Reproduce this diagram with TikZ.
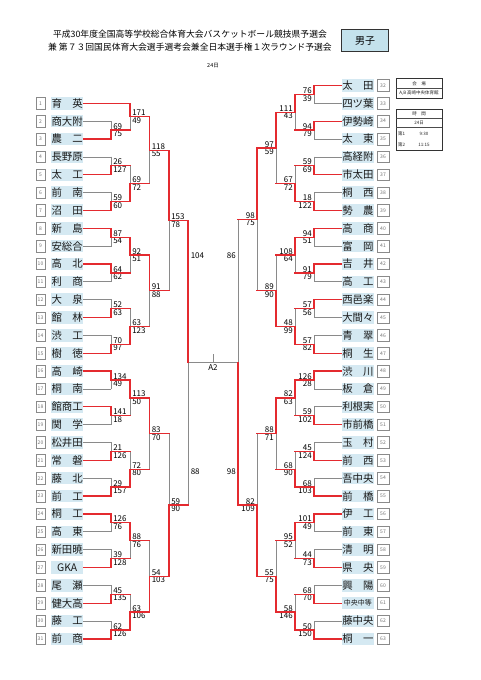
\documentclass[tikz,border=0pt]{standalone}
\usepackage{fontspec}
\setmainfont{Noto Sans CJK JP}
\usetikzlibrary{calc}
\pgfdeclarelayer{back}
\pgfdeclarelayer{paper}
\pgfsetlayers{paper,back,main}
\definecolor{bred}{HTML}{E42A2F}
\definecolor{bgray}{HTML}{8A8A8A}
\definecolor{nblue}{HTML}{D5E9F2}
\definecolor{hblue}{HTML}{C4E2EC}
\newcommand\fs[1]{\fontsize{#1}{#1}\selectfont}
\tikzset{
  rl/.style={draw=bred, line width=1.3pt, line cap=rect},
  gl/.style={draw=bgray, line width=0.8pt, line cap=rect},
  namebox/.style={fill=nblue, minimum width=32.5pt, minimum height=12.5pt, inner sep=0pt, font=\fs{10.4}, text=black!90},
  numbox/.style={draw=bgray, line width=0.6pt, fill=white, minimum height=11.5pt, inner sep=0pt, font=\fs{5}, text=black!55},
  score/.style={font=\fs{8}, inner sep=0.6pt, text=black},
  tbl/.style={draw=black!80, line width=0.8pt},
  tline/.style={draw=black!70, line width=0.5pt},
  ttext/.style={font=\fs{4.5}, inner sep=0pt, text=black!85},
}
\newcommand\segr[2]{\draw[rl] (#1) -- (#2);}
\newcommand\segg[2]{\begin{pgfonlayer}{back}\draw[gl] (#1) -- (#2);\end{pgfonlayer}}
\def\side{l}
\newcommand\brk[9]{%
  \coordinate (vx) at (#2,0);
  \coordinate (#1t) at (#3 -| vx);
  \coordinate (#1b) at (#4 -| vx);
  \coordinate (#1) at ($(#1t)!0.5!(#1b)$);
  \csname seg#5\endcsname{#3}{#1t}%
  \csname seg#6\endcsname{#4}{#1b}%
  \if t#7\segr{#1t}{#1}\segg{#1}{#1b}\else\segg{#1t}{#1}\segr{#1}{#1b}\fi
  \if l\side
    \node[score,anchor=south west] (#1u) at ([xshift=1.5pt]#1) {#8};
    \node[score,anchor=north west] (#1d) at ([xshift=1.5pt]#1) {#9};
  \else
    \node[score,anchor=south east] (#1u) at ([xshift=-1.5pt]#1) {#8};
    \node[score,anchor=north east] (#1d) at ([xshift=-1.5pt]#1) {#9};
  \fi
}
\begin{document}
\begin{tikzpicture}[x=1pt,y=-1pt]
\begin{pgfonlayer}{paper}
\fill[white] (0,0) rectangle (481,680);
\end{pgfonlayer}
\useasboundingbox (0,0) rectangle (481,680);

% header
\node[font=\fs{8.8}, inner sep=0pt] (title1) at (190,34.5) {平成30年度全国高等学校総合体育大会バスケットボール競技県予選会};
\node[font=\fs{8.8}, inner sep=0pt] (title2) at (190,46.7) {兼 第７３回国民体育大会選手選考会兼全日本選手権１次ラウンド予選会};
\node[draw=black!80, line width=0.9pt, fill=hblue, minimum width=46.5pt, minimum height=22pt, inner sep=0pt, font=\fs{10}] (sex) at (365,40.5) {男子};
\node[font=\fs{5.5}, inner sep=0pt] (day) at (213,66) {24日};

% info tables
\draw[tbl] (396,78.5) rectangle (442,98.5);
\draw[tline] (396,88.5) -- (442,88.5);
\node[ttext] (t1h) at (419,83.5) {会　場};
\node[ttext] (t1r) at (419,93.5) {A,B\ 高崎中央体育館};
\draw[tbl] (396,109) rectangle (442,150);
\draw[tline] (396,118) -- (442,118);
\draw[tline] (396,127) -- (442,127);
\node[ttext] (t2h) at (419,113.5) {時　間};
\node[ttext] (t2d) at (419,122.5) {24日};
\node[ttext, anchor=west] (t2a) at (398,134) {第1};
\node[ttext] (t2at) at (424,134) {9:30};
\node[ttext, anchor=west] (t2b) at (398,144.5) {第2};
\node[ttext] (t2bt) at (424,144.5) {11:15};

% teams left
\foreach \i/\nm in {1/育　英,2/商大附,3/農　二,4/長野原,5/太　工,6/前　南,7/沼　田,8/新　島,9/安総合,10/高　北,11/利　商,12/大　泉,13/館　林,14/渋　工,15/樹　徳,16/高　崎,17/桐　南,18/館商工,19/関　学,20/松井田,21/常　磐,22/藤　北,23/前　工,24/桐　工,25/高　東,26/新田暁,27/GKA,28/尾　瀬,29/健大高,30/藤　工,31/前　商}{
  \node[namebox] (L\i) at (67.15,{85.5+\i*17.85}) {\nm};
  \node[numbox, minimum width=9pt] (LN\i) at (40.5,{85.5+\i*17.85}) {\i};
}
% teams right
\foreach \j/\nm in {32/太　田,33/四ツ葉,34/伊勢崎,35/太　東,36/高経附,37/市太田,38/桐　西,39/勢　農,40/高　商,41/富　岡,42/吉　井,43/高　工,44/西邑楽,45/大間々,46/青　翠,47/桐　生,48/渋　川,49/板　倉,50/利根実,51/市前橋,52/玉　村,53/前　西,54/吾中央,55/前　橋,56/伊　工,57/前　東,58/清　明,59/県　央,60/興　陽,61/{\fs{7}中央中等},62/藤中央,63/桐　一}{
  \node[namebox] (R\j) at (357.85,{85.5+(\j-32)*17.85}) {\nm};
  \node[numbox, minimum width=12pt] (RN\j) at (383,{85.5+(\j-32)*17.85}) {\j};
}

% left bracket
\def\side{l}
\brk{LA1}{111}{L2.east}{L3.east}{g}{r}{b}{69}{75}
\brk{LA2}{111}{L4.east}{L5.east}{g}{r}{b}{26}{127}
\brk{LA3}{111}{L6.east}{L7.east}{g}{r}{b}{59}{60}
\brk{LA4}{111}{L8.east}{L9.east}{r}{g}{t}{87}{54}
\brk{LA5}{111}{L10.east}{L11.east}{r}{g}{t}{64}{62}
\brk{LA6}{111}{L12.east}{L13.east}{g}{r}{b}{52}{63}
\brk{LA7}{111}{L14.east}{L15.east}{g}{r}{b}{70}{97}
\brk{LA8}{111}{L16.east}{L17.east}{r}{g}{t}{134}{49}
\brk{LA9}{111}{L18.east}{L19.east}{r}{g}{t}{141}{18}
\brk{LA10}{111}{L20.east}{L21.east}{g}{r}{b}{21}{126}
\brk{LA11}{111}{L22.east}{L23.east}{g}{r}{b}{29}{157}
\brk{LA12}{111}{L24.east}{L25.east}{r}{g}{t}{126}{76}
\brk{LA13}{111}{L26.east}{L27.east}{g}{r}{b}{39}{128}
\brk{LA14}{111}{L28.east}{L29.east}{g}{r}{b}{45}{135}
\brk{LA15}{111}{L30.east}{L31.east}{g}{r}{b}{62}{126}

\brk{LB1}{130}{L1.east}{LA1}{r}{r}{t}{171}{49}
\brk{LB2}{130}{LA2}{LA3}{r}{r}{b}{69}{72}
\brk{LB3}{130}{LA4}{LA5}{r}{r}{t}{92}{51}
\brk{LB4}{130}{LA6}{LA7}{r}{r}{b}{63}{123}
\brk{LB5}{130}{LA8}{LA9}{r}{r}{t}{113}{50}
\brk{LB6}{130}{LA10}{LA11}{r}{r}{b}{72}{80}
\brk{LB7}{130}{LA12}{LA13}{r}{r}{t}{88}{76}
\brk{LB8}{130}{LA14}{LA15}{r}{r}{b}{63}{106}

\brk{LC1}{149.5}{LB1}{LB2}{r}{r}{t}{118}{55}
\brk{LC2}{149.5}{LB3}{LB4}{r}{r}{t}{91}{88}
\brk{LC3}{149.5}{LB5}{LB6}{r}{r}{t}{83}{70}
\brk{LC4}{149.5}{LB7}{LB8}{r}{r}{b}{54}{103}

\brk{LD1}{169}{LC1}{LC2}{r}{r}{t}{153}{78}
\brk{LD2}{169}{LC3}{LC4}{r}{r}{b}{59}{90}

% right bracket
\def\side{r}
\brk{RA1}{314}{R32.west}{R33.west}{r}{g}{t}{76}{39}
\brk{RA2}{314}{R34.west}{R35.west}{r}{g}{t}{94}{79}
\brk{RA3}{314}{R36.west}{R37.west}{g}{r}{b}{59}{69}
\brk{RA4}{314}{R38.west}{R39.west}{g}{r}{b}{18}{122}
\brk{RA5}{314}{R40.west}{R41.west}{r}{g}{t}{94}{51}
\brk{RA6}{314}{R42.west}{R43.west}{r}{g}{t}{91}{79}
\brk{RA7}{314}{R44.west}{R45.west}{r}{g}{t}{57}{56}
\brk{RA8}{314}{R46.west}{R47.west}{g}{r}{b}{57}{82}
\brk{RA9}{314}{R48.west}{R49.west}{r}{g}{t}{126}{28}
\brk{RA10}{314}{R50.west}{R51.west}{g}{r}{b}{59}{102}
\brk{RA11}{314}{R52.west}{R53.west}{g}{r}{b}{45}{124}
\brk{RA12}{314}{R54.west}{R55.west}{g}{r}{b}{68}{103}
\brk{RA13}{314}{R56.west}{R57.west}{r}{g}{t}{101}{49}
\brk{RA14}{314}{R58.west}{R59.west}{g}{r}{b}{44}{73}
\brk{RA15}{314}{R60.west}{R61.west}{g}{r}{b}{68}{70}
\brk{RA16}{314}{R62.west}{R63.west}{g}{r}{b}{50}{150}

\brk{RB1}{295}{RA1}{RA2}{r}{r}{t}{111}{43}
\brk{RB2}{295}{RA3}{RA4}{r}{r}{b}{67}{72}
\brk{RB3}{295}{RA5}{RA6}{r}{r}{t}{108}{64}
\brk{RB4}{295}{RA7}{RA8}{r}{r}{b}{48}{99}
\brk{RB5}{295}{RA9}{RA10}{r}{r}{t}{82}{63}
\brk{RB6}{295}{RA11}{RA12}{r}{r}{b}{68}{90}
\brk{RB7}{295}{RA13}{RA14}{r}{r}{t}{95}{52}
\brk{RB8}{295}{RA15}{RA16}{r}{r}{b}{58}{146}

\brk{RC1}{276}{RB1}{RB2}{r}{r}{t}{97}{59}
\brk{RC2}{276}{RB3}{RB4}{r}{r}{b}{89}{90}
\brk{RC3}{276}{RB5}{RB6}{r}{r}{t}{88}{71}
\brk{RC4}{276}{RB7}{RB8}{r}{r}{b}{55}{75}

\brk{RD1}{257}{RC1}{RC2}{r}{r}{t}{98}{75}
\brk{RD2}{257}{RC3}{RC4}{r}{r}{b}{82}{109}

% finals
\coordinate (fxl) at (188,0);
\coordinate (LFt) at (LD1 -| fxl);
\coordinate (LFb) at (LD2 -| fxl);
\coordinate (LF) at ($(LFt)!0.5!(LFb)$);
\segr{LD1}{LFt}
\segr{LD2}{LFb}
\segr{LFt}{LF}
\segg{LF}{LFb}
\coordinate (fxr) at (238,0);
\coordinate (RFt) at (RD1 -| fxr);
\coordinate (RFb) at (RD2 -| fxr);
\coordinate (RF) at (LF -| fxr);
\segr{RD1}{RFt}
\segr{RD2}{RFb}
\segg{RFt}{RF}
\segr{RF}{RFb}
\segg{LF}{RF}
\coordinate (A2m) at ($(LF)!0.5!(RF)$);
\draw[gl] (A2m) -- ++(0,-8);
\node[score, anchor=north] (A2) at ([yshift=-1pt]A2m) {A2};
\node[score, anchor=west] (LFs1) at (190,256) {104};
\node[score, anchor=west] (LFs2) at (190,472) {88};
\node[score, anchor=east] (RFs1) at (236.5,256) {86};
\node[score, anchor=east] (RFs2) at (236.5,472) {98};
\end{tikzpicture}
\end{document}
